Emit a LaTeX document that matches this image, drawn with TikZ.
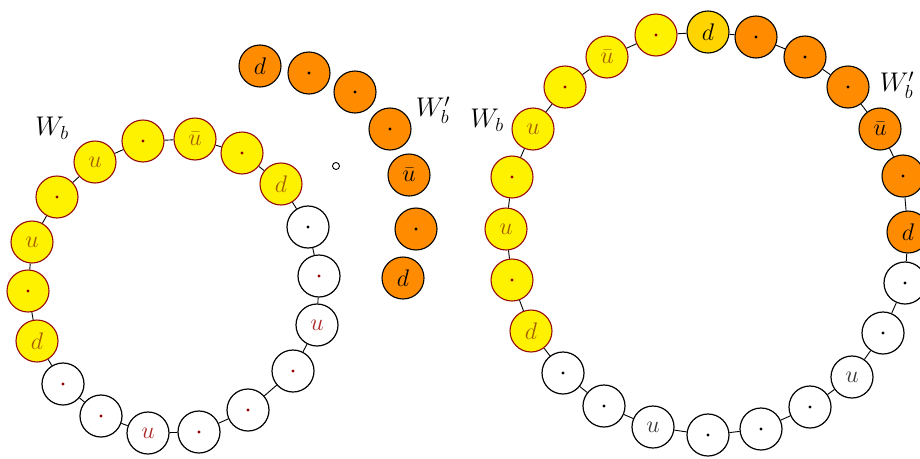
\RequirePackage{fix-cm}
\documentclass[tikz,border=0pt]{standalone}
\definecolor{beadrim}{RGB}{150,10,10}
\definecolor{ytext}{RGB}{165,95,0}
\definecolor{rtext}{RGB}{175,40,40}
\definecolor{rdotc}{RGB}{150,0,0}
\definecolor{gtext}{RGB}{55,55,55}
\definecolor{dorange}{RGB}{255,140,0}
\definecolor{goldb}{RGB}{255,212,0}
\begin{document}
\begin{tikzpicture}[x=1pt,y=-1pt,
  bead/.style={circle, minimum size=42pt, inner sep=0pt, line width=1.1pt,
    font=\fontsize{24}{28}\selectfont},
  withdot/.style={path picture={\fill[#1] (path picture bounding box.center) circle (1.7pt);}},
  yt/.style={bead, fill=yellow, draw=beadrim, text=ytext},
  yd/.style={yt, withdot=rdotc},
  wr/.style={bead, fill=white, draw=black, line width=1.2pt, text=rtext},
  wd/.style={wr, withdot=rdotc},
  wk/.style={wr, withdot=black},
  wg/.style={bead, fill=white, draw=black, line width=1.2pt, text=gtext},
  wb/.style={wg, withdot=black},
  ot/.style={bead, fill=dorange, draw=black, text=black},
  od/.style={ot, withdot=black},
  gt/.style={bead, fill=goldb, draw=black, text=black},
  link/.style={line width=0.9pt, black},
  lbl/.style={font=\fontsize{27}{32}\selectfont, text=black}]
\useasboundingbox (0,0) rectangle (920,458);

% left ring
\node[yt] (L1)  at (37,341)  {$d$};
\node[yd] (L2)  at (28,291)  {};
\node[yt] (L3)  at (32,242)  {$u$};
\node[yd] (L4)  at (57,197)  {};
\node[yt] (L5)  at (95,162)  {$u$};
\node[yd] (L6)  at (143,141) {};
\node[yt] (L7)  at (195,139) {$\bar u$};
\node[yd] (L8)  at (242,153) {};
\node[yt] (L9)  at (281,184) {$d$};
\node[wk] (L10) at (308,227) {};
\node[wd] (L11) at (319,276) {};
\node[wr] (L12) at (317,325) {$u$};
\node[wd] (L13) at (293,371) {};
\node[wd] (L14) at (248,410) {};
\node[wd] (L15) at (199,432) {};
\node[wr] (L16) at (148,433) {$u$};
\node[wd] (L17) at (101,416) {};
\node[wd] (L18) at (63,384)  {};
\foreach \i in {1,...,18}{
  \pgfmathtruncatemacro\j{mod(\i,18)+1}
  \draw[link] (L\i) -- (L\j);
}

% free orange chain
\node[ot] (O1) at (260,66)  {$d$};
\node[od] (O2) at (309,73)  {};
\node[od] (O3) at (355,92)  {};
\node[od] (O4) at (390,129) {};
\node[ot] (O5) at (409,175) {$\bar u$};
\node[od] (O6) at (416,229) {};
\node[ot] (O7) at (403,278) {$d$};
\draw[line width=0.9pt] (336,166) circle (3.5pt);

\node[lbl] (Wl)  at (52,128)  {$W_b$};
\node[lbl] (Wpl) at (433,110) {$W'_b$};

% right ring
\node[yt] (R1)  at (531,331) {$d$};
\node[yd] (R2)  at (512,280) {};
\node[yt] (R3)  at (506,229) {$u$};
\node[yd] (R4)  at (512,177) {};
\node[yt] (R5)  at (533,129) {$u$};
\node[yd] (R6)  at (565,87)  {};
\node[yt] (R7)  at (607,57)  {$\bar u$};
\node[yd] (R8)  at (656,35)  {};
\node[gt] (R9)  at (708,32)  {$d$};
\node[od] (R10) at (756,37)  {};
\node[od] (R11) at (805,57)  {};
\node[od] (R12) at (848,87)  {};
\node[ot] (R13) at (880,129) {$\bar u$};
\node[od] (R14) at (903,176) {};
\node[ot] (R15) at (908,232) {$d$};
\node[wb] (R16) at (905,283) {};
\node[wb] (R17) at (883,333) {};
\node[wg] (R18) at (852,377) {$u$};
\node[wb] (R19) at (810,407) {};
\node[wb] (R20) at (761,429) {};
\node[wb] (R21) at (708,435) {};
\node[wg] (R22) at (653,427) {$u$};
\node[wb] (R23) at (604,406) {};
\node[wb] (R24) at (563,373) {};
\foreach \i in {1,...,24}{
  \pgfmathtruncatemacro\j{mod(\i,24)+1}
  \draw[link] (R\i) -- (R\j);
}

\node[lbl] (Wr)  at (487,120) {$W_b$};
\node[lbl] (Wpr) at (897,85)  {$W'_b$};
\end{tikzpicture}
\end{document}
